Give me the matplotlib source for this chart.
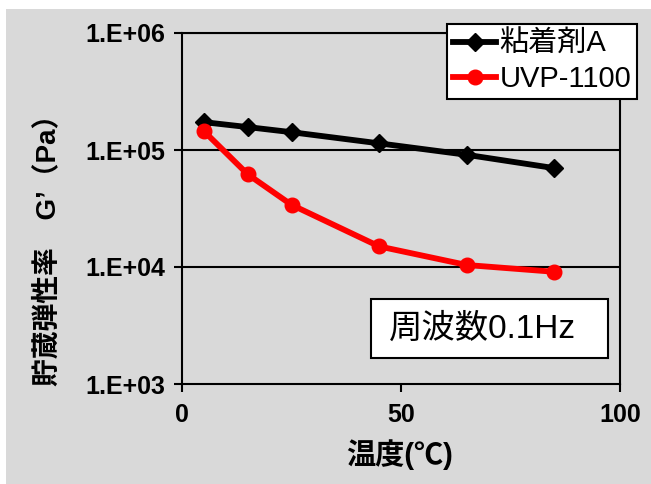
import matplotlib
matplotlib.use("Agg")
import matplotlib.pyplot as plt
from matplotlib.patches import Rectangle

plt.rcParams['font.family'] = ['Liberation Sans', 'Noto Sans CJK JP', 'DejaVu Sans']

# data
temp = [5, 15, 25, 45, 65, 85]
g_adhesive_a = [1.73e5, 1.57e5, 1.42e5, 1.14e5, 9.1e4, 7.0e4]
g_uvp1100 = [1.45e5, 6.2e4, 3.4e4, 1.5e4, 1.04e4, 9.1e3]
series_labels = ['粘着剤A', 'UVP-1100']
ytick_vals = [1e3, 1e4, 1e5, 1e6]
ytick_labels = ['1.E+03', '1.E+04', '1.E+05', '1.E+06']
xtick_vals = [0, 50, 100]

W, H = 651, 484
fig = plt.figure(figsize=(W / 100, H / 100), dpi=100, facecolor='white')
bg = '#d9d9d9'
fig.patches.append(Rectangle((6 / W, 0), 1 - 6 / W, 1 - 9 / H, transform=fig.transFigure,
                             facecolor=bg, edgecolor='none', zorder=-10))

ax = fig.add_axes([182 / W, 1 - 384 / H, (620 - 182) / W, (384 - 33) / H])
ax.set_facecolor(bg)
ax.set_yscale('log')
ax.set_ylim(1e3, 1e6)
ax.set_xlim(0, 100)

for y in ytick_vals[1:]:
    ax.axhline(y, color='black', lw=1.5, zorder=1)

ax.plot(temp, g_adhesive_a, color='black', lw=4.2, marker='D', ms=9,
        label=series_labels[0], zorder=3)
ax.plot(temp, g_uvp1100, color='red', lw=4.2, marker='o', ms=10.5,
        label=series_labels[1], zorder=4)

ax.set_yticks(ytick_vals)
ax.set_yticklabels(ytick_labels)
ax.yaxis.set_minor_locator(matplotlib.ticker.NullLocator())
ax.set_xticks(xtick_vals)
ax.tick_params(axis='both', direction='out', length=6, width=1.5, labelsize=18)
ax.tick_params(axis='y', pad=6)
ax.tick_params(axis='x', pad=8)
for lbl in ax.get_yticklabels() + ax.get_xticklabels():
    lbl.set_fontweight('bold')

for side in ['left', 'right', 'bottom', 'top']:
    ax.spines[side].set_linewidth(1.5)
    ax.spines[side].set_color('black')

fig.text(400 / W, 1 - 455 / H, '温度(℃)', ha='center', va='center',
         fontsize=21, fontweight='bold')
fig.text(48 / W, 1 - 243 / H, '貯蔵弾性率　G’（Pa）', ha='center', va='center',
         rotation=90, fontsize=20, fontweight='bold')

# frequency note box
fig.patches.append(Rectangle((371 / W, 1 - 358 / H), (608 - 371) / W, (358 - 299) / H,
                             transform=fig.transFigure, facecolor='white',
                             edgecolor='black', lw=1.5, zorder=5))
fig.text(482 / W, 1 - 329 / H, '周波数0.1Hz', ha='center', va='center',
         fontsize=24, zorder=6)

leg = fig.legend(loc='upper right', bbox_to_anchor=(637 / W, 1 - 24 / H),
                 bbox_transform=fig.transFigure, borderaxespad=0, fontsize=21,
                 handlelength=1.5, handletextpad=0.1, borderpad=0.2,
                 labelspacing=0.25, fancybox=False, framealpha=1,
                 facecolor='white', edgecolor='black')
leg.get_frame().set_linewidth(1.5)

fig.savefig('out.png', dpi=100, facecolor=fig.get_facecolor())
